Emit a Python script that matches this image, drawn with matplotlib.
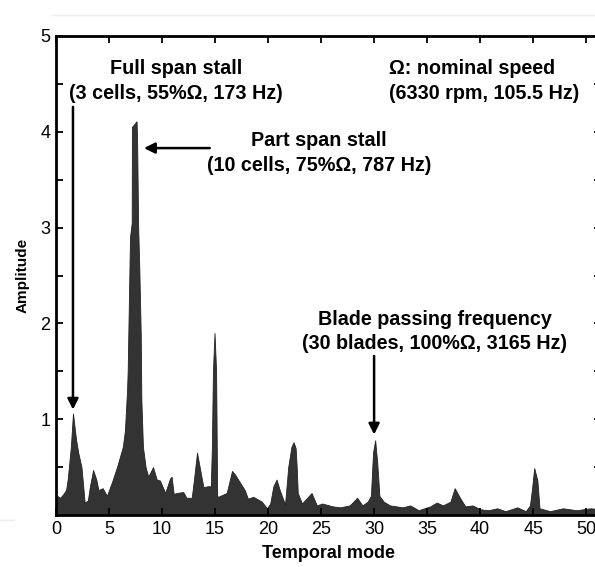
import numpy as np
import matplotlib
matplotlib.use("Agg")
import matplotlib.pyplot as plt
from matplotlib.lines import Line2D

plt.rcParams['font.family'] = ['Liberation Sans', 'DejaVu Sans']

# spectrum (temporal mode, amplitude)
mode = [0.0, 0.1, 0.4, 0.7, 0.95, 1.1, 1.4, 1.6, 1.9, 2.1, 2.4, 2.6, 2.7, 3.0,
        3.2, 3.5, 3.8, 4.0, 4.4, 4.8, 5.3, 5.75, 6.3, 6.5, 6.7, 6.76, 6.98, 7.14,
        7.16, 7.6, 7.65, 7.75, 7.85, 7.99, 8.05, 8.2, 8.45, 8.7, 9.15, 9.5, 9.8,
        10.3, 10.75, 10.9, 11.1, 11.4, 12.0, 12.3, 12.5, 12.8, 13.0, 13.3, 13.6,
        13.9, 14.3, 14.6, 14.7, 14.8, 14.95, 15.1, 15.2, 15.3, 16.1, 16.6, 16.9,
        17.4, 17.8, 18.1, 18.6, 19.4, 19.9, 20.2, 20.5, 20.8, 21.1, 21.6, 21.9,
        22.2, 22.4, 22.6, 22.7, 22.8, 23.2, 24.1, 24.6, 25.1, 26.1, 26.8, 27.7,
        28.4, 28.9, 29.4, 29.7, 29.9, 30.1, 30.3, 30.5, 30.9, 31.5, 32.1, 32.7,
        33.4, 34.2, 35.3, 35.9, 36.5, 37.2, 37.6, 38.1, 38.6, 39.3, 40.0, 40.8,
        41.6, 42.4, 43.5, 44.3, 44.7, 44.9, 45.1, 45.4, 45.6, 46.6, 47.8, 49.1,
        50.4, 51.4]
amp = [0.2, 0.2, 0.18, 0.22, 0.26, 0.37, 0.71, 1.06, 0.78, 0.65, 0.5, 0.26,
       0.13, 0.15, 0.3, 0.47, 0.37, 0.26, 0.28, 0.2, 0.35, 0.5, 0.71, 0.88, 1.3,
       1.5, 2.9, 3.05, 4.05, 4.11, 3.9, 3.0, 2.6, 1.9, 1.2, 0.71, 0.5, 0.4, 0.5,
       0.37, 0.36, 0.23, 0.38, 0.4, 0.22, 0.23, 0.24, 0.18, 0.18, 0.18, 0.36,
       0.65, 0.47, 0.29, 0.3, 0.3, 0.7, 1.5, 1.9, 1.5, 0.2, 0.19, 0.23, 0.46,
       0.42, 0.33, 0.26, 0.17, 0.19, 0.14, 0.07, 0.12, 0.3, 0.37, 0.26, 0.11,
       0.5, 0.71, 0.76, 0.7, 0.5, 0.23, 0.12, 0.23, 0.1, 0.12, 0.09, 0.08, 0.1,
       0.18, 0.1, 0.14, 0.2, 0.65, 0.78, 0.54, 0.2, 0.14, 0.1, 0.09, 0.08, 0.1,
       0.05, 0.09, 0.13, 0.1, 0.14, 0.28, 0.18, 0.09, 0.1, 0.06, 0.05, 0.07,
       0.04, 0.08, 0.04, 0.1, 0.28, 0.49, 0.36, 0.07, 0.04, 0.07, 0.05, 0.07,
       0.06]

# annotations: (text, text x, text y, arrow tail, arrow tip)
notes = [
    ("Full span stall\n(3 cells, 55%\u03a9, 173 Hz)", 11.3, 4.53, (1.6, 4.26), (1.6, 1.1)),
    ("Part span stall\n(10 cells, 75%\u03a9, 787 Hz)", 24.8, 3.78, (14.5, 3.83), (8.3, 3.83)),
    ("Blade passing frequency\n(30 blades, 100%\u03a9, 3165 Hz)", 35.7, 1.915, (30.0, 1.66), (30.0, 0.84)),
]
speed_note = "\u03a9: nominal speed\n(6330 rpm, 105.5 Hz)"

fig = plt.figure(figsize=(5.95, 5.67), dpi=100)
ax = fig.add_axes([56/595, 52/567, 545/595, 479/567])

ax.fill_between(mode, amp, 0, color='#333333', lw=0.6, edgecolor='#222222')

ax.set_xlim(0, 51.4)
ax.set_ylim(0, 5)
ax.set_xticks(range(0, 51, 5))
ax.set_yticks([1, 2, 3, 4, 5])
ax.set_yticks(np.arange(0.5, 5, 1.0), minor=True)
ax.tick_params(which='both', direction='in', top=True, right=True, width=1.3)
ax.tick_params(which='major', length=5, labelsize=13, pad=4)
ax.tick_params(which='minor', length=5)
for s in ax.spines.values():
    s.set_linewidth(2)

ax.set_xlabel("Temporal mode", fontsize=13, fontweight='bold', labelpad=5)
ax.set_ylabel("Amplitude", fontsize=11, fontweight='bold', labelpad=8)

for txt, tx, ty, tail, tip in notes:
    ax.text(tx, ty, txt, ha='center', va='center', fontsize=14.2,
            fontweight='bold', linespacing=1.35)
    ax.annotate("", xy=tip, xytext=tail,
                arrowprops=dict(arrowstyle='-|>', color='k', lw=1.8,
                                mutation_scale=16, shrinkA=0, shrinkB=0))

ax.text(31.4, 4.53, speed_note, ha='left', va='center', fontsize=14.2,
        fontweight='bold', linespacing=1.35)

# faint scan lines in the original picture
fig.add_artist(Line2D([52/595, 1], [1 - 15/567] * 2, color='#eeeeee', lw=1))
fig.add_artist(Line2D([0, 14/595], [1 - 520/567] * 2, color='#eeeeee', lw=1))

fig.savefig("out.png", dpi=100)
